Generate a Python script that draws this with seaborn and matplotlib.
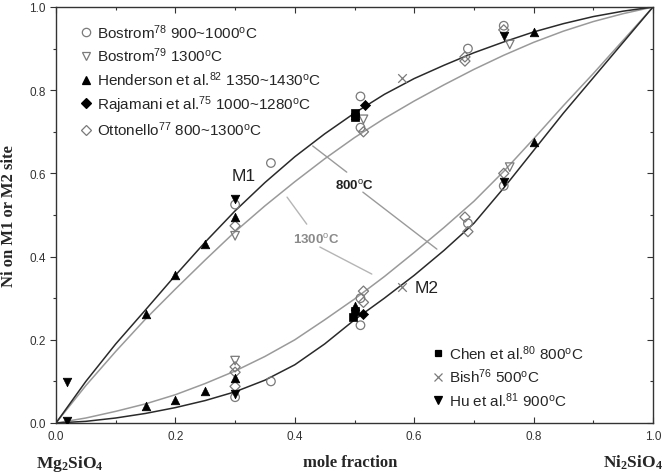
import numpy as np
import pandas as pd
import matplotlib
matplotlib.use("Agg")
import matplotlib.pyplot as plt
from matplotlib.lines import Line2D
import seaborn as sns

# ---------------- data ----------------
curve_x = [0.0, 0.05, 0.1, 0.15, 0.2, 0.25, 0.3, 0.35, 0.4, 0.45, 0.5,
           0.55, 0.6, 0.65, 0.7, 0.75, 0.8, 0.85, 0.9, 0.95, 1.0]
m1_800 = [0.0, 0.10, 0.19, 0.272, 0.355, 0.435, 0.51, 0.578, 0.64, 0.695, 0.745,
          0.79, 0.828, 0.86, 0.89, 0.916, 0.94, 0.96, 0.977, 0.99, 1.0]
m1_1300 = [0.0, 0.09, 0.172, 0.25, 0.322, 0.392, 0.46, 0.522, 0.58, 0.635, 0.686,
           0.732, 0.774, 0.813, 0.85, 0.884, 0.915, 0.942, 0.965, 0.984, 1.0]
m2_800 = [0.0, 0.004, 0.012, 0.023, 0.037, 0.054, 0.075, 0.103, 0.14, 0.19, 0.248,
          0.30, 0.355, 0.415, 0.48, 0.565, 0.655, 0.745, 0.83, 0.915, 1.0]
m2_1300 = [0.0, 0.012, 0.028, 0.046, 0.068, 0.095, 0.125, 0.16, 0.20, 0.248, 0.298,
           0.352, 0.41, 0.47, 0.533, 0.605, 0.683, 0.763, 0.84, 0.92, 1.0]

# tie lines (segments broken around labels)
tie800_x = [[0.430, 0.487], [0.514, 0.638]]
tie800_y = [[0.666, 0.603], [0.555, 0.418]]
tie1300_x = [[0.387, 0.420], [0.442, 0.529]]
tie1300_y = [[0.543, 0.478], [0.423, 0.358]]

bostrom78_x = [0.30, 0.36, 0.51, 0.51, 0.69, 0.75, 0.30, 0.36, 0.51, 0.51, 0.69, 0.75]
bostrom78_y = [0.525, 0.625, 0.785, 0.71, 0.90, 0.955, 0.062, 0.10, 0.235, 0.30, 0.48, 0.57]
bostrom79_x = [0.30, 0.515, 0.76, 0.30, 0.76]
bostrom79_y = [0.45, 0.73, 0.91, 0.15, 0.615]
henderson_x = [0.15, 0.20, 0.25, 0.30, 0.50, 0.80, 0.15, 0.20, 0.25, 0.30, 0.50, 0.80]
henderson_y = [0.262, 0.355, 0.43, 0.495, 0.74, 0.94, 0.041, 0.056, 0.078, 0.107, 0.282, 0.675]
rajamani_x = [0.518, 0.515]
rajamani_y = [0.765, 0.262]
ottonello_x = [0.30, 0.515, 0.685, 0.685, 0.75, 0.30, 0.30, 0.30, 0.515, 0.515, 0.685, 0.69, 0.75]
ottonello_y = [0.474, 0.70, 0.87, 0.88, 0.945, 0.135, 0.122, 0.088, 0.29, 0.317, 0.495, 0.46, 0.60]
chen_x = [0.50, 0.50, 0.498, 0.50]
chen_y = [0.745, 0.735, 0.255, 0.27]
bish_x = [0.58, 0.58]
bish_y = [0.83, 0.327]
hu_x = [0.018, 0.018, 0.30, 0.30, 0.75, 0.75]
hu_y = [0.099, 0.005, 0.538, 0.07, 0.93, 0.58]

legend1_labels = [r"Bostrom$^{78}$ 900~1000$^{\rm o}$C",
                  r"Bostrom$^{79}$ 1300$^{\rm o}$C",
                  r"Henderson et al.$^{82}$ 1350~1430$^{\rm o}$C",
                  r"Rajamani et al.$^{75}$ 1000~1280$^{\rm o}$C",
                  r"Ottonello$^{77}$ 800~1300$^{\rm o}$C"]
legend2_labels = [r"Chen et al.$^{80}$ 800$^{\rm o}$C",
                  r"Bish$^{76}$ 500$^{\rm o}$C",
                  r"Hu et al.$^{81}$ 900$^{\rm o}$C"]
xticks = [0.0, 0.2, 0.4, 0.6, 0.8, 1.0]
yticks = [0.0, 0.2, 0.4, 0.6, 0.8, 1.0]

# ---------------- style ----------------
sns.set_theme(style="white")
plt.rcParams["font.family"] = ["Liberation Sans", "DejaVu Sans"]
plt.rcParams["mathtext.fontset"] = "custom"
plt.rcParams["mathtext.rm"] = "Liberation Sans"
plt.rcParams["mathtext.it"] = "Liberation Sans:italic"
plt.rcParams["mathtext.bf"] = "Liberation Serif:bold"

DARK = "#2a2a2a"
GRAY = "#9a9a9a"
OPEN = "#7a7a7a"

fig = plt.figure(figsize=(6.64, 4.77), dpi=100)
ax = fig.add_axes([56 / 664, 1 - 424 / 477, 597 / 664, 416 / 477])

# curves
for ys, col in [(m1_1300, GRAY), (m2_1300, GRAY), (m1_800, DARK), (m2_800, DARK)]:
    sns.lineplot(x=curve_x, y=ys, color=col, lw=1.1, ax=ax, sort=False)

for xs, ys in zip(tie800_x, tie800_y):
    sns.lineplot(x=xs, y=ys, color=GRAY, lw=1.0, ax=ax, sort=False)
for xs, ys in zip(tie1300_x, tie1300_y):
    sns.lineplot(x=xs, y=ys, color="#b5b5b5", lw=1.0, ax=ax, sort=False)

# points
S = 38
sns.scatterplot(x=bostrom78_x, y=bostrom78_y, marker="o", s=S, facecolor="none",
                edgecolor=OPEN, linewidth=0.9, ax=ax, zorder=3)
sns.scatterplot(x=bostrom79_x, y=bostrom79_y, marker="v", s=S, facecolor="none",
                edgecolor=OPEN, linewidth=0.9, ax=ax, zorder=3)
sns.scatterplot(x=ottonello_x, y=ottonello_y, marker="D", s=S * 0.7, facecolor="none",
                edgecolor=OPEN, linewidth=0.9, ax=ax, zorder=3)
sns.scatterplot(x=henderson_x, y=henderson_y, marker="^", s=S, color="black",
                edgecolor="black", linewidth=0.5, ax=ax, zorder=4)
sns.scatterplot(x=rajamani_x, y=rajamani_y, marker="D", s=S * 0.7, color="black",
                edgecolor="black", linewidth=0.5, ax=ax, zorder=4)
sns.scatterplot(x=chen_x, y=chen_y, marker="s", s=S * 0.8, color="black",
                edgecolor="black", linewidth=0.5, ax=ax, zorder=4)
sns.scatterplot(x=bish_x, y=bish_y, marker="x", s=S, color=OPEN,
                linewidth=0.9, ax=ax, zorder=4)
sns.scatterplot(x=hu_x, y=hu_y, marker="v", s=S, color="black",
                edgecolor="black", linewidth=0.5, ax=ax, zorder=4)

# text labels
ax.text(0.315, 0.594, "M1", fontsize=12.5, ha="center", va="center", color="#222")
ax.text(0.601, 0.325, "M2", fontsize=12.5, ha="left", va="center", color="#222")
ax.text(0.50, 0.573, r"800$^{\rm o}$C", fontsize=9.5, fontweight="bold",
        ha="center", va="center", color="#222")
ax.text(0.435, 0.442, r"1300$^{\rm o}$C", fontsize=9.5, fontweight="bold",
        ha="center", va="center", color="#8a8a8a")

# legends
def h(marker, fc, ec, ms=6):
    return Line2D([], [], ls="none", marker=marker, markersize=ms,
                  markerfacecolor=fc, markeredgecolor=ec, markeredgewidth=0.9)

handles1 = [h("o", "none", OPEN), h("v", "none", OPEN), h("^", "black", "black"),
            h("D", "black", "black", 5), h("D", "none", OPEN, 5)]
leg1 = ax.legend(handles1, legend1_labels, loc="upper left",
                 bbox_to_anchor=(0.02, 0.986), frameon=False, fontsize=11,
                 handletextpad=0.2, labelspacing=0.33, handlelength=1.1,
                 borderaxespad=0.2)
ax.add_artist(leg1)
handles2 = [h("s", "black", "black", 5), h("x", OPEN, OPEN), h("v", "black", "black")]
ax.legend(handles2, legend2_labels, loc="lower left",
          bbox_to_anchor=(0.61, 0.012), frameon=False, fontsize=11,
          handletextpad=0.2, labelspacing=0.33, handlelength=1.1,
          borderaxespad=0.2)

# axes
ax.set_xlim(0, 1)
ax.set_ylim(0, 1)
ax.set_xticks(xticks)
ax.set_yticks(yticks)
ax.set_xticklabels([f"{t:.1f}" for t in xticks], fontsize=8.5)
ax.set_yticklabels([f"{t:.1f}" for t in yticks], fontsize=8.5)
ax.set_xticks(np.arange(0.1, 1.0, 0.2), minor=True)
ax.set_yticks(np.arange(0.1, 1.0, 0.2), minor=True)
ax.tick_params(axis="x", which="both", direction="in", top=True, bottom=True,
               length=4, width=0.8, colors="#333", pad=5)
ax.tick_params(axis="x", which="minor", length=2.5)
ax.tick_params(axis="y", which="both", direction="out", left=True, right=False,
               length=4, width=0.8, colors="#333")
ax.tick_params(axis="y", which="minor", length=2.5)
sec = ax.secondary_yaxis("right")
sec.set_yticks(yticks)
sec.set_yticks(np.arange(0.1, 1.0, 0.2), minor=True)
sec.tick_params(which="both", direction="in", length=4, width=0.8, labelright=False,
                colors="#333")
sec.tick_params(which="minor", length=2.5)
for sp in ax.spines.values():
    sp.set_color("#333")
    sp.set_linewidth(1.0)
sec.spines["right"].set_visible(False)

serif = ["Liberation Serif", "DejaVu Serif"]
ax.set_ylabel("Ni on M1 or M2 site", fontsize=12, fontweight="bold", family=serif)
ax.yaxis.set_label_coords(-0.066, 0.5)
fig.text(350 / 664, 1 - 463 / 477, "mole fraction", fontsize=12, fontweight="bold",
         family=serif, ha="center", va="center")
fig.text(70 / 664, 1 - 464 / 477, r"$\mathbf{Mg_2SiO_4}$", fontsize=12.5,
         ha="center", va="center")
fig.text(633 / 664, 1 - 463 / 477, r"$\mathbf{Ni_2SiO_4}$", fontsize=12.5,
         ha="center", va="center")

fig.savefig("out.png", dpi=100, facecolor="white")
